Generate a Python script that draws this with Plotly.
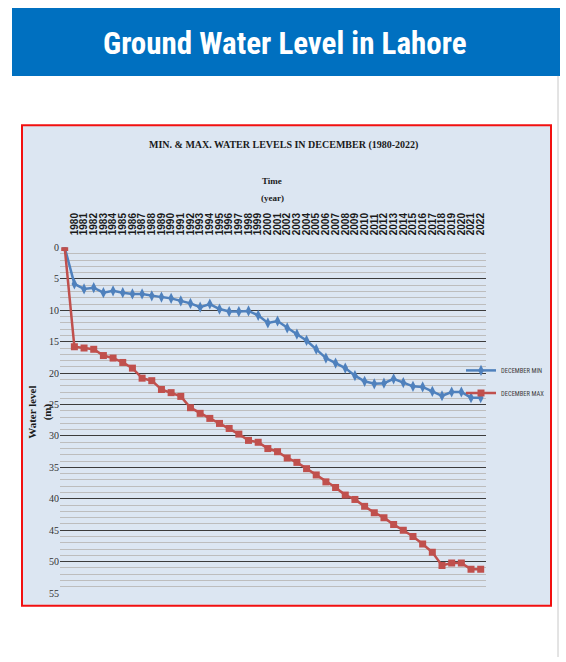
import plotly.graph_objects as go

W, H = 566, 662

# Year labels on the top axis (one per December reading)
year_labels = [str(y) for y in range(1980, 2023)]

# December water levels below ground (m); the first entry is the 0 m reference point,
# the following 43 entries are the readings for 1980..2022
dec_min = [0, 5.8, 6.6, 6.4, 7.2, 6.9, 7.2, 7.4, 7.4, 7.7, 7.9, 8.1, 8.5, 8.9, 9.5,
           9.0, 9.8, 10.2, 10.2, 10.1, 10.8, 12.0, 11.7, 12.8, 13.8, 14.8, 16.2,
           17.6, 18.4, 19.2, 20.4, 21.3, 21.7, 21.6, 20.9, 21.5, 22.1, 22.2, 22.9,
           23.6, 23.0, 23.0, 23.9, 23.9]
dec_max = [0, 15.8, 16.0, 16.2, 17.2, 17.6, 18.3, 19.2, 20.8, 21.2, 22.6, 23.1, 23.7,
           25.5, 26.4, 27.2, 28.0, 28.8, 29.7, 30.7, 31.0, 32.0, 32.5, 33.5, 34.2,
           35.2, 36.2, 37.3, 38.2, 39.4, 40.1, 41.2, 42.2, 43.0, 44.1, 45.0, 46.0,
           47.2, 48.5, 50.6, 50.2, 50.2, 51.2, 51.2]

x_idx = list(range(len(dec_min)))
label_pos = x_idx[1:]


def px(x):
    return x / W


def py(y):
    return 1 - y / H


BLUE = "#4F81BD"
RED = "#C0504D"

fig = go.Figure()
fig.add_trace(go.Scatter(
    x=x_idx, y=dec_min, mode="lines+markers", name="DECEMBER MIN",
    line=dict(color=BLUE, width=2.5),
    marker=dict(symbol="diamond-tall", size=8, color=BLUE),
    legend="legend", showlegend=True,
))
fig.add_trace(go.Scatter(
    x=x_idx, y=dec_max, mode="lines+markers", name="DECEMBER MAX",
    line=dict(color=RED, width=2.5),
    marker=dict(symbol="square", size=7, color=RED),
    legend="legend2", showlegend=True,
))

shapes = [
    # heading banner
    dict(type="rect", xref="paper", yref="paper", x0=px(12), x1=px(560), y0=py(72), y1=py(3),
         fillcolor="#0070C0", line=dict(width=0), layer="below"),
    # thin page rule on the right
    dict(type="line", xref="paper", yref="paper", x0=px(558), x1=px(558), y0=py(662), y1=py(72),
         line=dict(color="#C8C8C8", width=1), layer="below"),
    # chart frame
    dict(type="rect", xref="paper", yref="paper", x0=px(22), x1=px(551), y0=py(610), y1=py(122),
         fillcolor="#DCE6F2", line=dict(color="#F21010", width=2), layer="below"),
]

serif = "Liberation Serif, Times New Roman, serif"
cond = "Roboto Condensed, Liberation Sans Narrow, Roboto, sans-serif"

annotations = [
    dict(text="<b>Ground Water Level in Lahore</b>", x=px(285), y=py(39), xref="paper", yref="paper",
         showarrow=False, xanchor="center", yanchor="middle",
         font=dict(family=cond, size=31, color="white")),
    dict(text="<b>MIN. & MAX. WATER LEVELS IN DECEMBER (1980-2022)</b>", x=px(283), y=py(142),
         xref="paper", yref="paper", showarrow=False, xanchor="center", yanchor="middle",
         font=dict(family=serif, size=10, color="#1a1a1a")),
    dict(text="<b>Time</b>", x=px(272), y=py(179), xref="paper", yref="paper",
         showarrow=False, xanchor="center", yanchor="middle",
         font=dict(family=serif, size=9, color="#1a1a1a")),
    dict(text="<b>(year)</b>", x=px(272), y=py(196), xref="paper", yref="paper",
         showarrow=False, xanchor="center", yanchor="middle",
         font=dict(family=serif, size=9, color="#1a1a1a")),
    dict(text="<b>Water level<br>(m)</b>", x=px(40), y=py(414), xref="paper", yref="paper",
         showarrow=False, xanchor="center", yanchor="middle", textangle=-90,
         font=dict(family=serif, size=11, color="#1a1a1a")),
]

legend_font = dict(family=cond, size=6.5, color="#404040")

fig.update_layout(
    width=W, height=H,
    margin=dict(l=0, r=0, t=0, b=0),
    paper_bgcolor="white",
    plot_bgcolor="rgba(0,0,0,0)",
    showlegend=True,
    shapes=shapes,
    annotations=annotations,
    xaxis=dict(
        domain=[px(60), px(486)],
        range=[-0.486, 43.548],
        side="top", anchor="y",
        tickmode="array", tickvals=label_pos, ticktext=year_labels,
        tickangle=-90,
        tickfont=dict(family="Liberation Sans, Arial, sans-serif", size=10, color="#1a1a1a",
                      weight="bold"),
        ticks="outside", ticklen=9, tickcolor="rgba(0,0,0,0)",
        showgrid=False, zeroline=False, showline=False,
    ),
    yaxis=dict(
        domain=[py(597.3), py(246)],
        range=[55.03, -0.03],
        tickmode="linear", tick0=0, dtick=5,
        tickfont=dict(family=serif, size=10, color="#333333"),
        showgrid=True, gridcolor="#3C3C3C", gridwidth=1.2,
        minor=dict(tick0=0, dtick=1, showgrid=True, gridcolor="#BDBDBD", gridwidth=1),
        zeroline=False, showline=False, ticks="",
    ),
    legend=dict(x=px(461), y=py(371), xanchor="left", yanchor="middle",
                bgcolor="rgba(0,0,0,0)", font=legend_font, itemwidth=30),
    legend2=dict(x=px(461), y=py(394), xanchor="left", yanchor="middle",
                 bgcolor="rgba(0,0,0,0)", font=legend_font, itemwidth=30),
)

fig.write_html("out.html")
